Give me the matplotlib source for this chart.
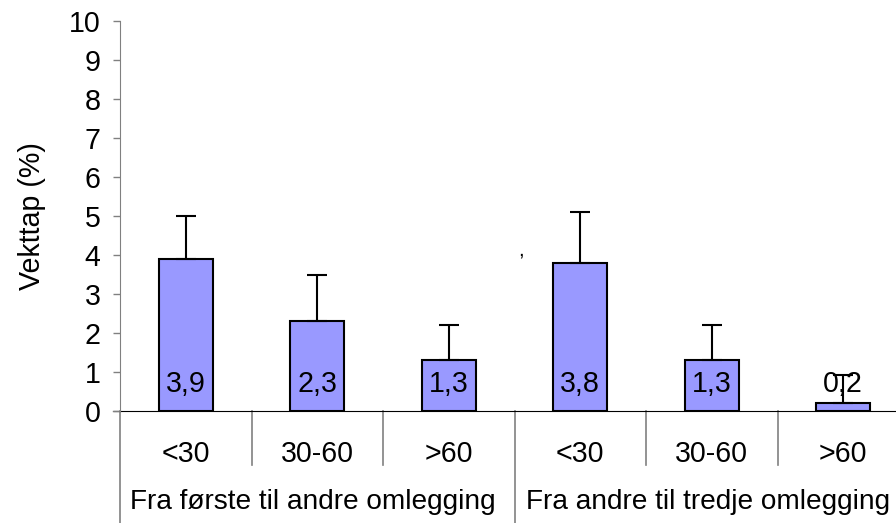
import matplotlib
matplotlib.use("Agg")
import matplotlib.pyplot as plt
import numpy as np

categories = ["<30", "30-60", ">60", "<30", "30-60", ">60"]
groups = ["Fra første til andre omlegging", "Fra andre til tredje omlegging"]
values = [3.9, 2.3, 1.3, 3.8, 1.3, 0.2]
errors = [1.1, 1.2, 0.9, 1.3, 0.9, 0.72]
labels = ["3,9", "2,3", "1,3", "3,8", "1,3", "0,2"]

plt.rcParams['font.family'] = ['Liberation Sans', 'DejaVu Sans']
FS = 20.6

W, H = 896, 523
fig = plt.figure(figsize=(W / 100, H / 100), dpi=100)
x0, x1 = 120, 909
y0, y1 = 411, 21
ax = fig.add_axes([x0 / W, 1 - y0 / H, (x1 - x0) / W, (y0 - y1) / H])

x = np.arange(len(values))
ax.bar(x, values, width=0.41, color="#9999FF", edgecolor="black", linewidth=1.5, zorder=2)
ax.errorbar(x, values, yerr=[np.zeros(len(errors)), errors], fmt="none",
            ecolor="black", elinewidth=1.5, capsize=7.5, capthick=1.5, zorder=3)
for xi, lab in zip(x, labels):
    ax.text(xi, 0.7, lab, ha="center", va="center", fontsize=FS, zorder=4)

ax.set_xlim(-0.5, len(values) - 0.5)
ax.set_ylim(0, 10)
ax.set_yticks(range(0, 11))
ax.tick_params(axis="y", direction="out", length=5, width=1, color="#808080",
               labelsize=FS, pad=9)
ax.set_xticks([])
for s in ["top", "right"]:
    ax.spines[s].set_visible(False)
ax.spines["left"].set_color("#808080")
ax.spines["bottom"].set_color("black")
ax.spines["left"].set_zorder(5)
ax.set_ylabel("Vekttap (%)", fontsize=FS)
ax.yaxis.set_label_coords((46 - x0) / (x1 - x0), 0.5)

trans = ax.get_xaxis_transform()
ph = y0 - y1
# category labels and separators
for xi, c in zip(x, categories):
    ax.text(xi, -(454 - y0) / ph, c, transform=trans, ha="center", va="center",
            fontsize=FS, clip_on=False)
for b in [0.5, 1.5, 3.5, 4.5]:
    ax.plot([b, b], [0, -(465 - y0) / ph], transform=trans, color="#808080", lw=1.2,
            clip_on=False)
# group separators
for b in [-0.5, 2.5]:
    ax.plot([b, b], [0, -(H - y0 + 5) / ph], transform=trans, color="#808080", lw=1.2,
            clip_on=False)
ax.plot([-0.5 - 7 / (x1 - x0) * 6, -0.5], [0, 0], transform=trans, color="#808080", lw=1,
        clip_on=False)
group_x = [0.97, 3.97]
for gx, g in zip(group_x, groups):
    ax.text(gx, -(502 - y0) / ph, g, transform=trans, ha="center", va="center",
            fontsize=20.2, clip_on=False)

# stray comma present in the original
ax.text(2.55, 4.0, ",", ha="center", va="baseline", fontsize=15)

fig.savefig("out.png", dpi=100)
